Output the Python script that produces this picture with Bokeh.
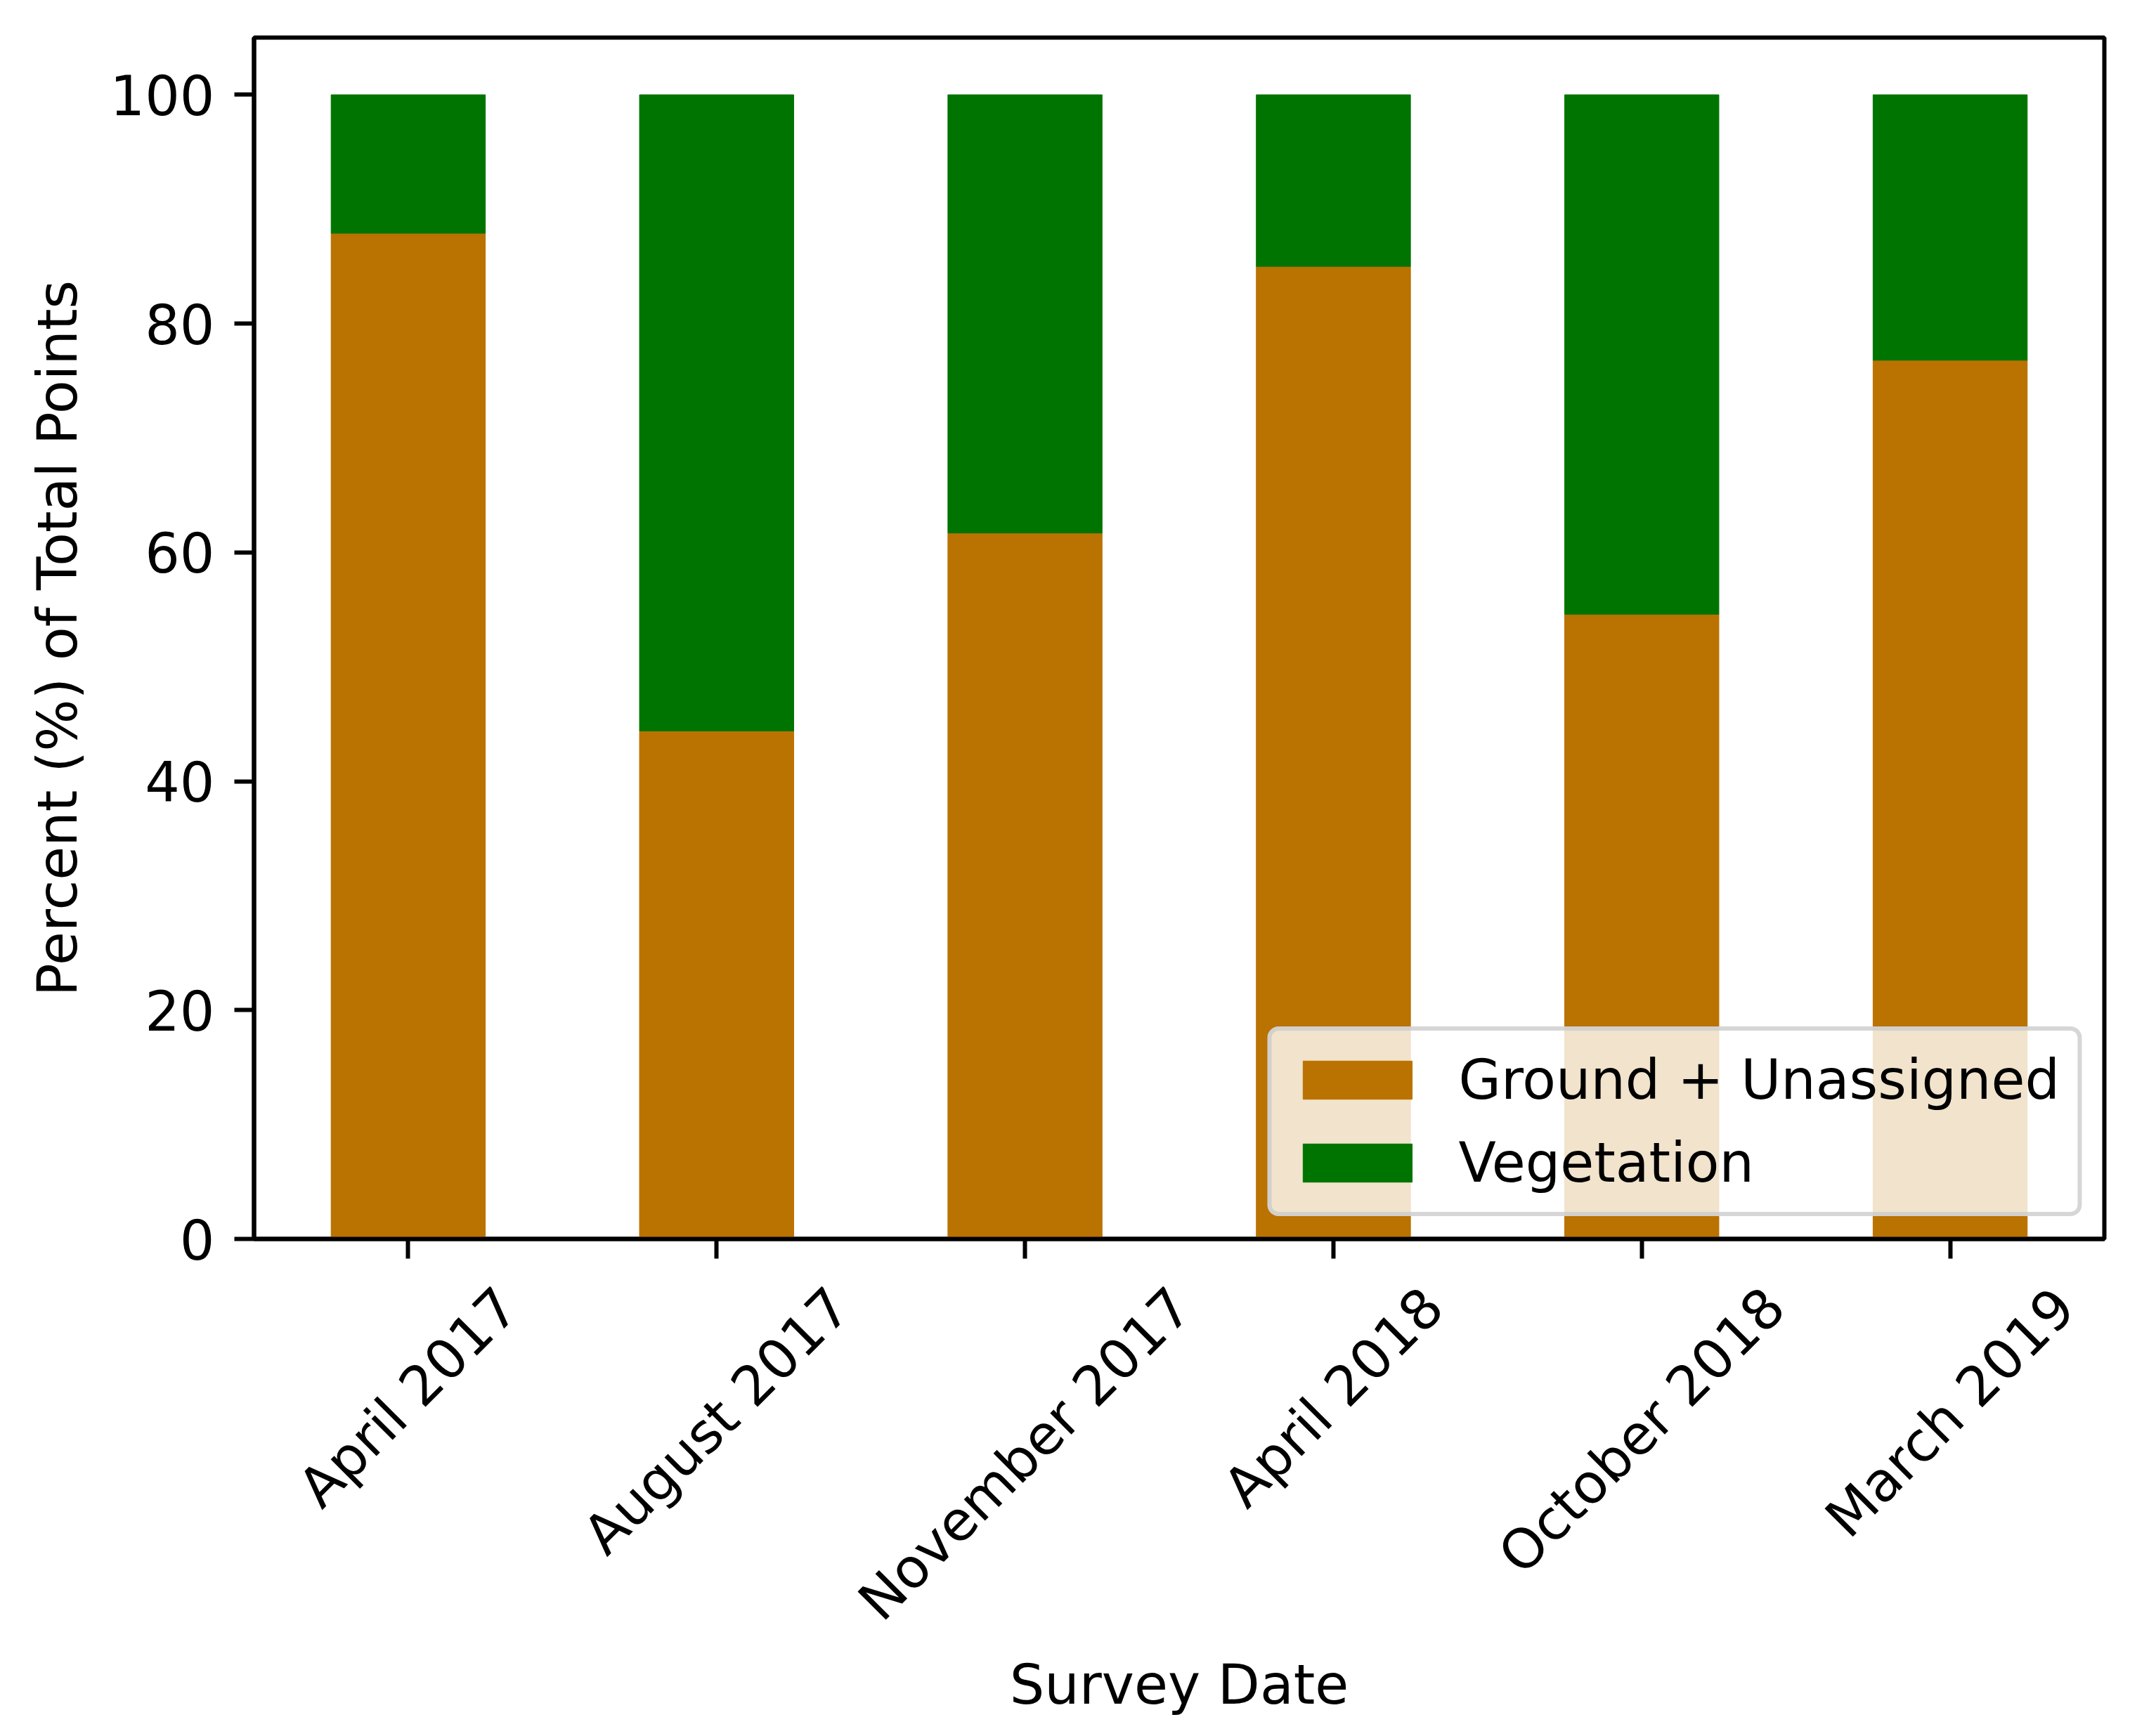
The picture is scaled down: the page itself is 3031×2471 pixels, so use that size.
import math
from bokeh.plotting import figure
from bokeh.layouts import column
from bokeh.models import ColumnDataSource, FixedTicker, Range1d
from bokeh.core.properties import value
from bokeh.embed import file_html
from bokeh.resources import INLINE

# ---- data ----
dates = ["April 2017", "August 2017", "November 2017", "April 2018", "October 2018", "March 2019"]
ground = [87.9, 44.4, 61.7, 85.0, 54.6, 76.8]
vegetation = [12.1, 55.6, 38.3, 15.0, 45.4, 23.2]
series_names = ["Ground + Unassigned", "Vegetation"]
y_ticks = [0, 20, 40, 60, 80, 100]
x_title = "Survey Date"
y_title = "Percent (%) of Total Points"

ORANGE = "#BA7200"
GREEN = "#007400"
FONT = "DejaVu Sans"
FS = 78  # px

FRAME_L, FRAME_T, FRAME_W, FRAME_H, BORDER_R = 361, 53, 2633, 1710, 21
GAP = 50          # space under the main frame before the label strip
STRIP_H = 640     # label strip height

xs = list(range(len(dates)))
source = ColumnDataSource(dict(x=xs, ground=ground, veg=vegetation))
x_range = Range1d(-0.5, 5.5)

p = figure(
    frame_width=FRAME_W, frame_height=FRAME_H,
    min_border_left=FRAME_L, min_border_top=FRAME_T, min_border_right=BORDER_R,
    min_border_bottom=GAP,
    x_range=x_range, y_range=Range1d(0, 105),
    output_backend="svg", toolbar_location=None,
)
p.background_fill_color = "white"
p.border_fill_color = "white"
p.grid.visible = False
p.outline_line_color = "black"
p.outline_line_width = 6

p.vbar_stack(["ground", "veg"], x="x", width=0.5, color=[ORANGE, GREEN],
             source=source, legend_label=series_names)

for ax in (p.xaxis[0], p.yaxis[0]):
    ax.axis_line_width = 6
    ax.major_tick_line_width = 6
    ax.major_tick_in = 0
    ax.major_tick_out = 28
    ax.minor_tick_line_color = None
    ax.major_label_text_font = FONT
    ax.major_label_text_font_size = f"{FS}px"
    ax.major_label_text_color = "black"
    ax.axis_label_text_font = FONT
    ax.axis_label_text_font_size = f"{FS}px"
    ax.axis_label_text_font_style = "normal"
    ax.axis_label_text_color = "black"

p.yaxis.ticker = FixedTicker(ticks=y_ticks)
p.yaxis.major_label_standoff = 28
p.yaxis.axis_label = y_title
p.yaxis.axis_label_standoff = 27

p.xaxis.ticker = FixedTicker(ticks=xs)
p.xaxis.major_label_overrides = {i: "" for i in xs}
p.xaxis.major_label_text_font_size = "1px"
p.xaxis.major_label_standoff = 0

lg = p.legend[0]
lg.location = "bottom_right"
lg.margin = 32
lg.padding = 25
lg.spacing = 28
lg.glyph_width = 194
lg.glyph_height = 68
lg.label_standoff = 47
lg.label_text_font = FONT
lg.label_text_font_size = f"{FS}px"
lg.label_text_color = "black"
lg.background_fill_color = "white"
lg.background_fill_alpha = 0.8
lg.border_line_color = "#cccccc"
lg.border_line_alpha = 0.8
lg.border_line_width = 6
try:
    lg.border_radius = 16
except Exception:
    pass

# ---- strip under the plot with the rotated category labels and x title ----
# DejaVu Sans advance widths (em), used to centre each rotated label like matplotlib
CW = {"A": .684, "p": .635, "r": .411, "i": .278, "l": .278, " ": .318, "u": .634,
      "g": .635, "s": .521, "t": .392, "N": .748, "o": .612, "v": .592, "e": .615,
      "m": .974, "b": .635, "O": .787, "c": .550, "M": .863, "a": .613, "h": .634}

def text_w(s):
    return sum(CW.get(ch, .636) for ch in s) * FS

label_y = [-(28 + 28 + (text_w(d) + FS) * math.sin(math.pi / 4) / 2) for d in dates]
lab_src = ColumnDataSource(dict(x=xs, y=label_y, text=dates))

p2 = figure(
    frame_width=FRAME_W, frame_height=STRIP_H,
    min_border_left=FRAME_L, min_border_right=BORDER_R, min_border_top=0, min_border_bottom=0,
    x_range=x_range, y_range=Range1d(-(GAP + STRIP_H), -GAP),
    x_axis_type=None, y_axis_type=None,
    output_backend="svg", toolbar_location=None,
)
p2.grid.visible = False
p2.outline_line_color = None
p2.background_fill_color = "white"
p2.border_fill_color = "white"

p2.text(x="x", y="y", text="text", source=lab_src, angle=math.pi / 4,
        text_align="center", text_baseline="middle",
        text_font=value(FONT), text_font_size=value(f"{FS}px"), text_color="black")
p2.text(x=[2.5], y=[-634], text=[x_title], text_align="center", text_baseline="middle",
        text_font=value(FONT), text_font_size=value(f"{FS}px"), text_color="black")

layout = column(p, p2, spacing=0)
open("out.html", "w").write(file_html(layout, INLINE))
